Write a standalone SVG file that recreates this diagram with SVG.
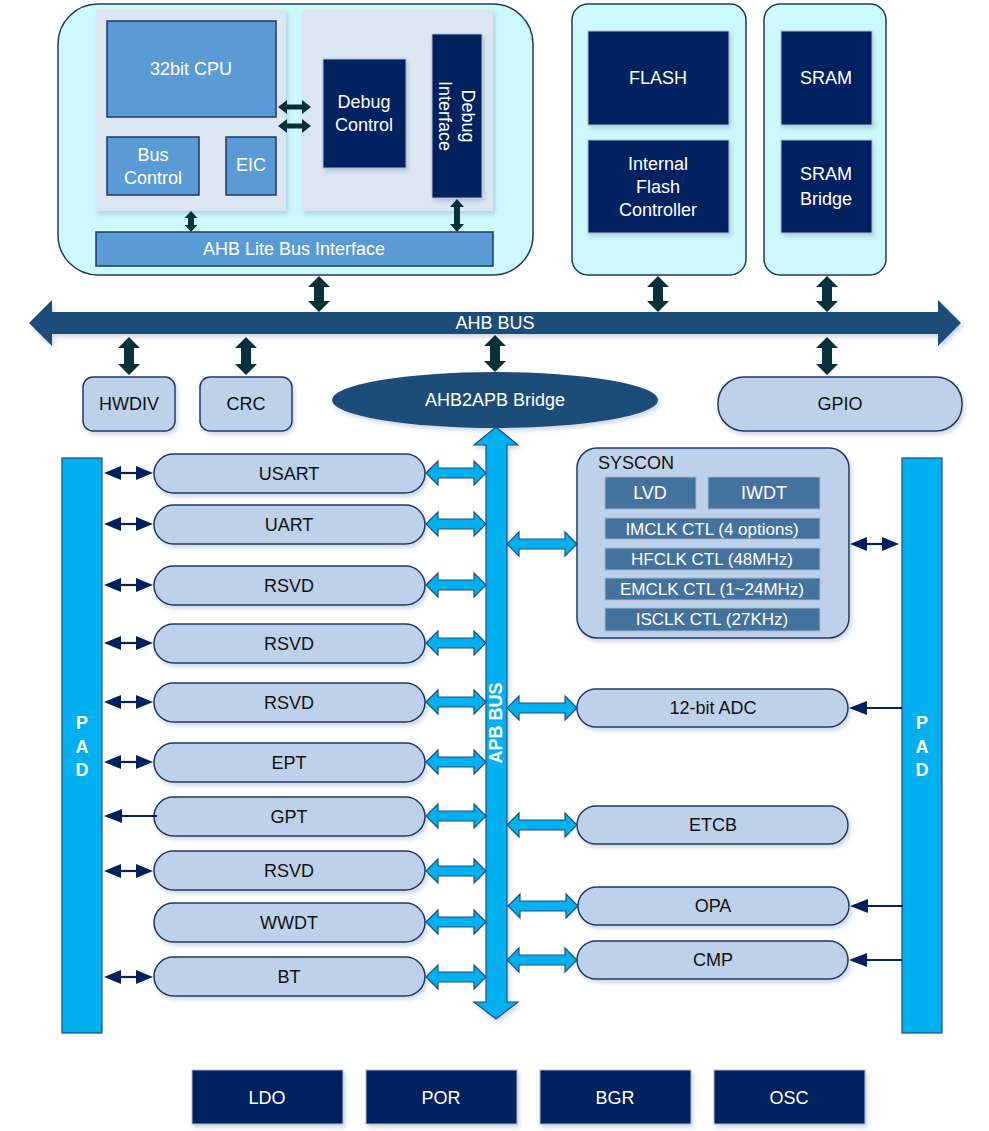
<svg xmlns="http://www.w3.org/2000/svg" xmlns:xlink="http://www.w3.org/1999/xlink" width="989" height="1131" viewBox="0 0 989 1131">
<style>
text{font-family:"Liberation Sans",Arial,sans-serif;font-size:18px;text-anchor:middle}
.w{fill:#fff}
.k{fill:#111}
.cont{fill:#ccf9fb;stroke:#1f3864;stroke-width:1.5}
.panel{fill:#dce6f2}
.mid{fill:#5b9bd5;stroke:#1f3864;stroke-width:1.5}
.dark{fill:#002060;stroke:#b4bccb;stroke-width:1}
.pill{fill:#bed1ea;stroke:#1f3864;stroke-width:1.5}
.pad{fill:#00b0f0;stroke:#1f4e79;stroke-width:1.2}
.sys{fill:#44729f;stroke:#aab5c4;stroke-width:1}
.bus{fill:#1f4e79}
.blk{fill:#06303a}
.nv{fill:#002060}
.nvl{stroke:#002060;stroke-width:2.2;fill:none}
.bl{fill:#00b0f0;stroke:#1f4e79;stroke-width:1.2}
.b{font-weight:bold}
</style>
<defs>
<filter id="sh" x="-10%" y="-10%" width="130%" height="140%">
<feDropShadow dx="2" dy="3" stdDeviation="2" flood-color="#6f8fb5" flood-opacity="0.35"/>
</filter>
<path id="bL" class="bl" d="M0,0 L12,-12 L12,-5 L48,-5 L48,-12 L60,0 L48,12 L48,5 L12,5 L12,12 Z"/>
<path id="bR" class="bl" d="M0,0 L12,-12 L12,-5 L58,-5 L58,-12 L70,0 L58,12 L58,5 L12,5 L12,12 Z"/>
<g id="nD"><polygon class="nv" points="0,0 17,-7 17,7"/><polygon class="nv" points="49,0 32,-7 32,7"/><line class="nvl" x1="15" y1="0" x2="34" y2="0"/></g>
<g id="nS"><polygon class="nv" points="0,0 18,-7 18,7"/><line class="nvl" x1="16" y1="0" x2="53" y2="0"/></g>
</defs>

<!-- CPU subsystem -->
<g id="cpu-sys">
<rect class="cont" x="58" y="4" width="475" height="271" rx="40"/>
<rect class="panel" x="96" y="10" width="190" height="201" filter="url(#sh)"/>
<rect class="panel" x="302" y="10" width="191" height="201" filter="url(#sh)"/>
</g>
<g id="cpu"><rect class="mid" x="107" y="21" width="169" height="96"/><text class="w" x="191" y="75">32bit CPU</text></g>
<g id="bus-control"><rect class="mid" x="107" y="137" width="92" height="58"/><text class="w" x="153" y="161">Bus</text><text class="w" x="153" y="184">Control</text></g>
<g id="eic"><rect class="mid" x="226" y="137" width="50" height="58"/><text class="w" x="251" y="171">EIC</text></g>
<g id="debug-control"><rect class="dark" x="323" y="59" width="83" height="109" filter="url(#sh)"/><text class="w" x="364" y="108">Debug</text><text class="w" x="364" y="131">Control</text></g>
<g id="debug-interface"><rect class="dark" x="432" y="34" width="50" height="164" filter="url(#sh)"/>
<text class="w" transform="translate(457,116) rotate(90)"><tspan x="0" y="-5">Debug</tspan><tspan x="0" y="18">Interface</tspan></text></g>
<g id="ahb-lite"><rect class="mid" x="96" y="232" width="397" height="34"/><text class="w" x="294" y="255">AHB Lite Bus Interface</text></g>

<!-- Flash -->
<g id="flash-sys"><rect class="cont" x="572" y="4" width="174" height="271" rx="16"/></g>
<g id="flash"><rect class="dark" x="588" y="31" width="141" height="94" filter="url(#sh)"/><text class="w" x="658" y="84">FLASH</text></g>
<g id="flash-ctrl"><rect class="dark" x="588" y="140" width="141" height="93" filter="url(#sh)"/><text class="w" x="658" y="170">Internal</text><text class="w" x="658" y="193">Flash</text><text class="w" x="658" y="216">Controller</text></g>

<!-- SRAM -->
<g id="sram-sys"><rect class="cont" x="764" y="4" width="122" height="271" rx="16"/></g>
<g id="sram"><rect class="dark" x="781" y="31" width="91" height="94" filter="url(#sh)"/><text class="w" x="826" y="84">SRAM</text></g>
<g id="sram-bridge"><rect class="dark" x="781" y="140" width="91" height="93" filter="url(#sh)"/><text class="w" x="826" y="180">SRAM</text><text class="w" x="826" y="205">Bridge</text></g>

<!-- AHB bus -->
<g id="ahb-bus"><path class="bus" d="M29,323 L52,300 L52,312 L938,312 L938,300 L961,323 L938,346 L938,334 L52,334 L52,346 Z" filter="url(#sh)"/><text class="w" x="495" y="329">AHB BUS</text></g>

<g id="hwdiv"><rect class="pill" x="83" y="377" width="92" height="54" rx="10" filter="url(#sh)"/><text class="k" x="129" y="410">HWDIV</text></g>
<g id="crc"><rect class="pill" x="200" y="377" width="92" height="54" rx="10" filter="url(#sh)"/><text class="k" x="246" y="410">CRC</text></g>
<g id="ahb2apb"><ellipse class="bus" cx="495" cy="400" rx="163" ry="28" filter="url(#sh)"/><text class="w" x="495" y="406">AHB2APB Bridge</text></g>
<g id="gpio"><rect class="pill" x="718" y="377" width="244" height="54" rx="26" filter="url(#sh)"/><text class="k" x="840" y="410">GPIO</text></g>

<!-- PADs -->
<g id="pad-left"><rect class="pad" x="62" y="458" width="40" height="575"/><text class="w b" x="82" y="729">P</text><text class="w b" x="82" y="753">A</text><text class="w b" x="82" y="776">D</text></g>
<g id="pad-right"><rect class="pad" x="902" y="458" width="40" height="575"/><text class="w b" x="922" y="729">P</text><text class="w b" x="922" y="753">A</text><text class="w b" x="922" y="776">D</text></g>

<!-- APB bus -->
<g id="apb-bus"><path class="bl" d="M496,427 L518,445 L507,445 L507,1002 L518,1002 L496,1019 L474,1002 L486,1002 L486,445 L474,445 Z" filter="url(#sh)"/>
<text class="w b" transform="translate(502,723) rotate(-90)">APB BUS</text></g>

<!-- left peripherals -->
<g id="usart"><rect class="pill" x="154" y="454" width="271" height="39" rx="19.5" filter="url(#sh)"/><text class="k" x="289" y="480">USART</text></g>
<g id="uart"><rect class="pill" x="154" y="505" width="271" height="39" rx="19.5" filter="url(#sh)"/><text class="k" x="289" y="531">UART</text></g>
<g id="rsvd1"><rect class="pill" x="154" y="566" width="271" height="39" rx="19.5" filter="url(#sh)"/><text class="k" x="289" y="592">RSVD</text></g>
<g id="rsvd2"><rect class="pill" x="154" y="624" width="271" height="39" rx="19.5" filter="url(#sh)"/><text class="k" x="289" y="650">RSVD</text></g>
<g id="rsvd3"><rect class="pill" x="154" y="683" width="271" height="39" rx="19.5" filter="url(#sh)"/><text class="k" x="289" y="709">RSVD</text></g>
<g id="ept"><rect class="pill" x="154" y="743" width="271" height="39" rx="19.5" filter="url(#sh)"/><text class="k" x="289" y="769">EPT</text></g>
<g id="gpt"><rect class="pill" x="154" y="797" width="271" height="39" rx="19.5" filter="url(#sh)"/><text class="k" x="289" y="823">GPT</text></g>
<g id="rsvd4"><rect class="pill" x="154" y="851" width="271" height="39" rx="19.5" filter="url(#sh)"/><text class="k" x="289" y="877">RSVD</text></g>
<g id="wwdt"><rect class="pill" x="154" y="903" width="271" height="39" rx="19.5" filter="url(#sh)"/><text class="k" x="289" y="929">WWDT</text></g>
<g id="bt"><rect class="pill" x="154" y="957" width="271" height="39" rx="19.5" filter="url(#sh)"/><text class="k" x="289" y="983">BT</text></g>

<!-- SYSCON -->
<g id="syscon">
<rect class="pill" x="577" y="448" width="272" height="190" rx="20" filter="url(#sh)"/>
<text class="k" x="598" y="469" style="text-anchor:start">SYSCON</text>
<rect class="sys" x="605" y="477" width="91" height="32"/><text class="w" x="650" y="499">LVD</text>
<rect class="sys" x="708" y="477" width="112" height="32"/><text class="w" x="764" y="499">IWDT</text>
<rect class="sys" x="605" y="518" width="215" height="21"/><text class="w" x="712" y="535" style="font-size:17px">IMCLK CTL (4 options)</text>
<rect class="sys" x="605" y="548" width="215" height="22"/><text class="w" x="712" y="565" style="font-size:17px">HFCLK CTL (48MHz)</text>
<rect class="sys" x="605" y="578" width="215" height="22"/><text class="w" x="712" y="595" style="font-size:17px">EMCLK CTL (1~24MHz)</text>
<rect class="sys" x="605" y="608" width="215" height="23"/><text class="w" x="712" y="625" style="font-size:17px">ISCLK CTL (27KHz)</text>
</g>

<!-- right peripherals -->
<g id="adc"><rect class="pill" x="577" y="689" width="271" height="38" rx="19" filter="url(#sh)"/><text class="k" x="713" y="714">12-bit ADC</text></g>
<g id="etcb"><rect class="pill" x="577" y="806" width="271" height="38" rx="19" filter="url(#sh)"/><text class="k" x="713" y="831">ETCB</text></g>
<g id="opa"><rect class="pill" x="578" y="887" width="271" height="38" rx="19" filter="url(#sh)"/><text class="k" x="713" y="912">OPA</text></g>
<g id="cmp"><rect class="pill" x="577" y="941" width="271" height="38" rx="19" filter="url(#sh)"/><text class="k" x="713" y="966">CMP</text></g>

<!-- bottom analog blocks -->
<g id="ldo"><rect class="dark" x="192" y="1070" width="151" height="54" filter="url(#sh)"/><text class="w" x="267" y="1104">LDO</text></g>
<g id="por"><rect class="dark" x="366" y="1070" width="151" height="54" filter="url(#sh)"/><text class="w" x="441" y="1104">POR</text></g>
<g id="bgr"><rect class="dark" x="540" y="1070" width="151" height="54" filter="url(#sh)"/><text class="w" x="615" y="1104">BGR</text></g>
<g id="osc"><rect class="dark" x="714" y="1070" width="151" height="54" filter="url(#sh)"/><text class="w" x="789" y="1104">OSC</text></g>

<!-- connectors -->
<g id="connectors">
<path class="blk" d="M278,107 L287,100 L287,104.5 L302,104.5 L302,100 L311,107 L302,114 L302,109.5 L287,109.5 L287,114 Z"/>
<path class="blk" d="M278,126 L287,119 L287,123.5 L302,123.5 L302,119 L311,126 L302,133 L302,128.5 L287,128.5 L287,133 Z"/>
<path class="blk" d="M191,211 L197.5,218 L194,218 L194,225 L197.5,225 L191,232 L184.5,225 L188,225 L188,218 L184.5,218 Z"/>
<path class="blk" d="M457,199 L464,207 L460,207 L460,224 L464,224 L457,232 L450,224 L454,224 L454,207 L450,207 Z"/>
<path class="blk" d="M319,276 L330,287 L324,287 L324,301 L330,301 L319,312 L308,301 L314,301 L314,287 L308,287 Z"/>
<path class="blk" d="M658,276 L669,287 L663,287 L663,301 L669,301 L658,312 L647,301 L653,301 L653,287 L647,287 Z"/>
<path class="blk" d="M827,276 L838,287 L832,287 L832,301 L838,301 L827,312 L816,301 L822,301 L822,287 L816,287 Z"/>
<path class="blk" d="M129,337 L140,348 L134,348 L134,364 L140,364 L129,375 L118,364 L124,364 L124,348 L118,348 Z"/>
<path class="blk" d="M246,337 L257,348 L251,348 L251,364 L257,364 L246,375 L235,364 L241,364 L241,348 L235,348 Z"/>
<path class="blk" d="M495,335 L506,346 L500,346 L500,361 L506,361 L495,372 L484,361 L490,361 L490,346 L484,346 Z"/>
<path class="blk" d="M827,337 L838,348 L832,348 L832,364 L838,364 L827,375 L816,364 L822,364 L822,348 L816,348 Z"/>
<use xlink:href="#bL" href="#bL" transform="translate(426,473)"/>
<use xlink:href="#bL" href="#bL" transform="translate(426,524)"/>
<use xlink:href="#bL" href="#bL" transform="translate(426,585)"/>
<use xlink:href="#bL" href="#bL" transform="translate(426,643)"/>
<use xlink:href="#bL" href="#bL" transform="translate(426,702)"/>
<use xlink:href="#bL" href="#bL" transform="translate(426,762)"/>
<use xlink:href="#bL" href="#bL" transform="translate(426,816)"/>
<use xlink:href="#bL" href="#bL" transform="translate(426,871)"/>
<use xlink:href="#bL" href="#bL" transform="translate(426,922)"/>
<use xlink:href="#bL" href="#bL" transform="translate(426,977)"/>
<use xlink:href="#bR" href="#bR" transform="translate(507,544)"/>
<use xlink:href="#bR" href="#bR" transform="translate(507,708)"/>
<use xlink:href="#bR" href="#bR" transform="translate(507,825)"/>
<use xlink:href="#bR" href="#bR" transform="translate(508,906)"/>
<use xlink:href="#bR" href="#bR" transform="translate(507,960)"/>
<use xlink:href="#nD" href="#nD" transform="translate(104,473)"/>
<use xlink:href="#nD" href="#nD" transform="translate(104,524)"/>
<use xlink:href="#nD" href="#nD" transform="translate(104,585)"/>
<use xlink:href="#nD" href="#nD" transform="translate(104,643)"/>
<use xlink:href="#nD" href="#nD" transform="translate(104,702)"/>
<use xlink:href="#nD" href="#nD" transform="translate(104,762)"/>
<use xlink:href="#nS" href="#nS" transform="translate(104,816)"/>
<use xlink:href="#nD" href="#nD" transform="translate(104,871)"/>
<use xlink:href="#nD" href="#nD" transform="translate(104,977)"/>
<use xlink:href="#nD" href="#nD" transform="translate(850,544)"/>
<use xlink:href="#nS" href="#nS" transform="translate(849,708)"/>
<use xlink:href="#nS" href="#nS" transform="translate(850,906)"/>
<use xlink:href="#nS" href="#nS" transform="translate(849,960)"/>
</g>
</svg>
